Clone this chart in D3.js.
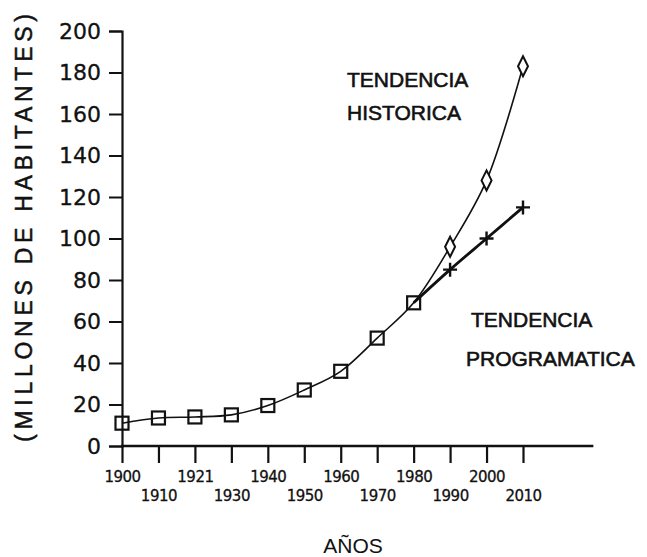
<!DOCTYPE html>
<html>
<head>
<meta charset="utf-8">
<script src="https://cdn.jsdelivr.net/npm/d3@7"></script>
<style>
  body { margin: 0; background: #fff; }
  text { font-family: "Liberation Sans", Arial, sans-serif; fill: #111; }
  .num { font-family: "DejaVu Sans", sans-serif; }
</style>
</head>
<body>
<svg width="647" height="557"></svg>
<script>
// tick labels on the x axis (evenly spaced, 1921 as printed)
var years = ["1900", "1910", "1921", "1930", "1940", "1950", "1960", "1970", "1980", "1990", "2000", "2010"];
var yTicks = [0, 20, 40, 60, 80, 100, 120, 140, 160, 180, 200];

// observed population (squares)
var obsYears = ["1900", "1910", "1921", "1930", "1940", "1950", "1960", "1970", "1980"];
var obsValues = [11, 13.5, 14, 15, 19.5, 27, 36, 52, 69];

// historic trend (diamonds)
var histYears = ["1990", "2000", "2010"];
var histValues = [96, 128, 183];

// programmatic trend (crosses)
var progYears = ["1990", "2000", "2010"];
var progValues = [85, 100, 115];

var svg = d3.select("svg");

var x = d3.scalePoint().domain(years).range([122, 523]);
var y = d3.scaleLinear().domain([0, 200]).range([446, 31]);

//x axis
var xAxis = svg.append("g")
    .attr("transform", "translate(0," + y(0) + ")")
    .call(d3.axisBottom(x).tickSize(17).tickSizeOuter(0));
xAxis.select(".domain").remove();
xAxis.selectAll(".tick line").attr("stroke", "#111").attr("stroke-width", 2.2);
xAxis.selectAll(".tick text")
    .attr("class", "num")
    .attr("font-size", "15px")
    .attr("fill", "#111")
    .attr("stroke", "#111")
    .attr("stroke-width", 0.3)
    .attr("letter-spacing", "-0.5px")
    .attr("y", function (d, i) { return i % 2 == 0 ? 31 : 50; })
    .attr("dy", "0.35em");
svg.append("line")
    .attr("x1", x.range()[0] - 1)
    .attr("x2", x.range()[1] + 1.93 * x.step())
    .attr("y1", y(0)).attr("y2", y(0))
    .attr("stroke", "#111").attr("stroke-width", 2.4);

//y axis
var yAxis = svg.append("g")
    .attr("transform", "translate(" + x(years[0]) + ",0)")
    .call(d3.axisLeft(y).tickValues(yTicks).tickSize(13).tickPadding(8));
yAxis.select(".domain").attr("stroke", "#111").attr("stroke-width", 2.2);
yAxis.selectAll(".tick line").attr("stroke", "#111").attr("stroke-width", 2);
yAxis.selectAll(".tick text")
    .attr("class", "num")
    .attr("font-size", "22px")
    .attr("fill", "#111")
    .attr("stroke", "#111")
    .attr("stroke-width", 0.3);

//axis titles
svg.append("text")
    .attr("x", 353)
    .attr("y", 553)
    .attr("text-anchor", "middle")
    .attr("font-size", "21px")
    .text("AÑOS");

svg.append("text")
    .attr("transform", "translate(32,228) rotate(-90)")
    .attr("text-anchor", "middle")
    .attr("font-size", "23px")
    .attr("stroke", "#111")
    .attr("stroke-width", 0.5)
    .attr("textLength", 428)
    .attr("lengthAdjust", "spacing")
    .text("(MILLONES DE HABITANTES)");

//curves
var line = d3.line()
    .x(function (d) { return x(d[0]); })
    .y(function (d) { return y(d[1]); })
    .curve(d3.curveCatmullRom.alpha(0.5));

var obs = obsYears.map(function (d, i) { return [d, obsValues[i]]; });
var hist = histYears.map(function (d, i) { return [d, histValues[i]]; });
var prog = progYears.map(function (d, i) { return [d, progValues[i]]; });

svg.append("path")
    .datum(obs.concat(hist))
    .attr("d", line)
    .attr("fill", "none")
    .attr("stroke", "#111")
    .attr("stroke-width", 1.6);

svg.append("path")
    .datum([obs[obs.length - 1]].concat(prog))
    .attr("d", line)
    .attr("fill", "none")
    .attr("stroke", "#111")
    .attr("stroke-width", 2.8);

//markers
svg.selectAll(".sq")
    .data(obs)
    .enter().append("rect")
    .attr("class", "sq")
    .attr("x", function (d) { return x(d[0]) - 6.5; })
    .attr("y", function (d) { return y(d[1]) - 6.5; })
    .attr("width", 13)
    .attr("height", 13)
    .attr("fill", "none")
    .attr("stroke", "#111")
    .attr("stroke-width", 2.2);

svg.selectAll(".dia")
    .data(hist)
    .enter().append("path")
    .attr("class", "dia")
    .attr("transform", function (d) { return "translate(" + x(d[0]) + "," + y(d[1]) + ")"; })
    .attr("d", "M0,-10L5,0L0,10L-5,0Z")
    .attr("fill", "#fff")
    .attr("stroke", "#111")
    .attr("stroke-width", 2);

svg.selectAll(".cross")
    .data(prog)
    .enter().append("path")
    .attr("class", "cross")
    .attr("transform", function (d) { return "translate(" + x(d[0]) + "," + y(d[1]) + ")"; })
    .attr("d", "M-7,0L7,0M0,-7L0,7")
    .attr("stroke", "#111")
    .attr("stroke-width", 2.4);

//labels
var labels = [
    { t: "TENDENCIA", x: 347, y: 87 },
    { t: "HISTORICA", x: 347, y: 120 },
    { t: "TENDENCIA", x: 471, y: 327 },
    { t: "PROGRAMATICA", x: 466, y: 366 }
];
svg.selectAll(".lbl")
    .data(labels)
    .enter().append("text")
    .attr("class", "lbl")
    .attr("x", function (d) { return d.x; })
    .attr("y", function (d) { return d.y; })
    .attr("font-size", "21px")
    .attr("stroke", "#111")
    .attr("stroke-width", 0.6)
    .text(function (d) { return d.t; });
</script>
</body>
</html>
